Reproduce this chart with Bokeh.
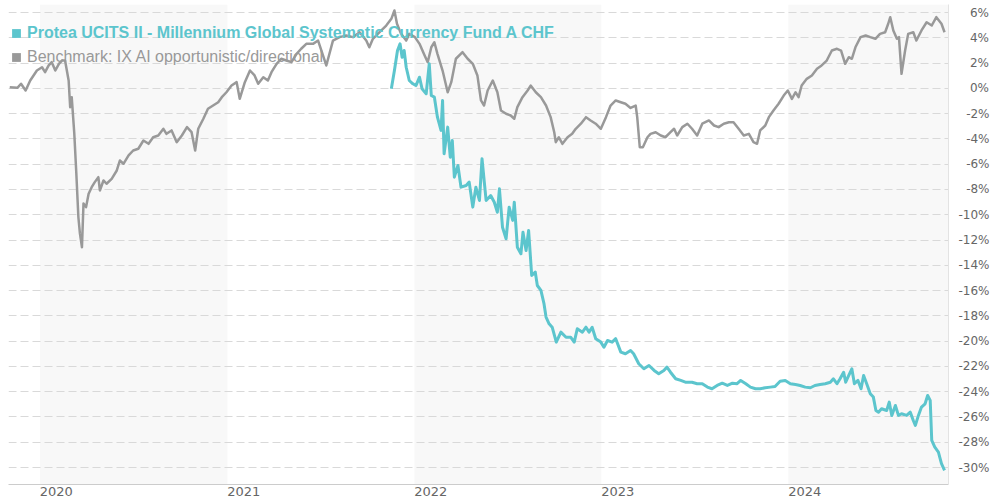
import pandas as pd
from bokeh.plotting import figure
from bokeh.models import (ColumnDataSource, Range1d, FixedTicker, Legend,
                          LegendItem, BoxAnnotation, CustomJSTickFormatter)
from bokeh.embed import file_html
from bokeh.resources import INLINE

# ---------------- data ----------------
bench_dates = [
    "2019-11-03", "2019-11-18", "2019-11-25", "2019-12-04", "2019-12-13", "2019-12-26",
    "2020-01-05", "2020-01-11", "2020-01-18", "2020-01-24", "2020-01-31", "2020-02-07", "2020-02-13", "2020-02-19", "2020-02-26", "2020-02-29",
    "2020-03-03", "2020-03-08", "2020-03-12", "2020-03-16", "2020-03-19", "2020-03-23", "2020-03-26", "2020-03-31", "2020-04-05", "2020-04-11", "2020-04-17", "2020-04-24", "2020-04-27",
    "2020-05-04", "2020-05-10", "2020-05-20", "2020-05-30", "2020-06-05", "2020-06-12", "2020-06-22", "2020-07-01", "2020-07-11", "2020-07-21",
    "2020-07-31", "2020-08-09", "2020-08-19", "2020-08-29", "2020-09-04", "2020-09-14", "2020-09-24", "2020-10-04", "2020-10-14", "2020-10-23",
    "2020-10-30", "2020-11-05", "2020-11-15", "2020-11-24", "2020-12-04", "2020-12-14", "2020-12-21", "2020-12-30",
    "2021-01-09", "2021-01-19", "2021-01-25", "2021-02-04", "2021-02-14", "2021-02-23", "2021-03-02", "2021-03-12", "2021-03-21", "2021-03-28",
    "2021-04-07", "2021-04-16", "2021-04-26", "2021-05-06", "2021-05-16", "2021-05-25", "2021-06-04", "2021-06-17", "2021-06-27", "2021-07-13",
    "2021-07-26", "2021-08-08", "2021-08-21", "2021-09-03", "2021-09-16", "2021-09-29", "2021-10-05", "2021-10-12", "2021-10-25", "2021-11-07",
    "2021-11-17", "2021-11-23", "2021-11-28", "2021-12-06", "2021-12-16", "2021-12-22",
    "2022-01-02", "2022-01-11", "2022-01-21", "2022-01-27", "2022-02-03", "2022-02-09", "2022-02-15", "2022-02-25", "2022-03-07", "2022-03-14",
    "2022-03-23", "2022-04-05", "2022-04-15", "2022-04-25", "2022-05-04", "2022-05-11", "2022-05-17", "2022-05-24", "2022-06-03", "2022-06-12",
    "2022-06-19", "2022-06-29", "2022-07-08", "2022-07-15", "2022-07-21", "2022-07-31", "2022-08-10", "2022-08-16", "2022-08-26", "2022-09-05",
    "2022-09-15", "2022-09-24", "2022-10-01", "2022-10-04", "2022-10-10", "2022-10-17", "2022-10-27", "2022-11-05", "2022-11-12", "2022-11-22",
    "2022-12-02", "2022-12-11", "2022-12-21", "2022-12-31",
    "2023-01-10", "2023-01-19", "2023-01-29", "2023-02-08", "2023-02-17", "2023-02-27", "2023-03-09", "2023-03-12", "2023-03-17", "2023-03-23",
    "2023-04-01", "2023-04-07", "2023-04-17", "2023-04-27", "2023-05-06", "2023-05-16", "2023-05-23", "2023-05-29", "2023-06-08", "2023-06-18",
    "2023-06-27", "2023-07-07", "2023-07-17", "2023-07-30", "2023-08-09", "2023-08-18", "2023-08-28", "2023-09-07", "2023-09-16", "2023-09-26",
    "2023-10-06", "2023-10-16", "2023-10-25", "2023-11-01", "2023-11-07", "2023-11-17", "2023-11-24", "2023-12-03", "2023-12-13", "2023-12-23",
    "2023-12-31",
    "2024-01-08", "2024-01-15", "2024-01-21", "2024-01-27", "2024-02-06", "2024-02-16", "2024-02-26", "2024-03-06", "2024-03-16", "2024-03-26",
    "2024-04-05", "2024-04-13", "2024-04-21", "2024-04-28", "2024-05-04", "2024-05-11", "2024-05-21", "2024-05-31", "2024-06-09", "2024-06-19",
    "2024-06-28", "2024-07-08", "2024-07-14", "2024-07-18", "2024-07-24", "2024-07-31", "2024-08-04", "2024-08-09", "2024-08-16", "2024-08-22",
    "2024-09-01", "2024-09-07", "2024-09-17", "2024-09-27", "2024-10-07", "2024-10-16", "2024-10-26", "2024-11-01",
]
bench_values = [
    0.09, 0.04, 0.36, -0.17, 0.62, 1.41,
    1.67, 1.28, 1.81, 2.07, 1.41, 1.94, 2.20, 2.20, 0.62, -1.49,
    -0.70, -3.57, -6.74, -10.19, -11.48, -12.57, -9.11, -9.40, -8.34, -7.82, -7.42, -7.03, -8.08,
    -7.29, -7.55, -7.16, -6.50, -5.71, -5.97, -5.31, -4.92, -4.78, -4.13,
    -4.39, -3.87, -3.73, -3.20, -3.60, -3.33, -4.26, -3.73, -3.07, -3.47,
    -4.92, -3.20, -2.41, -1.62, -1.36, -1.10, -0.70, -0.31,
    0.22, 0.49, -0.83, 0.49, 1.41, 1.02, 0.36, 0.88, 0.62, 1.28,
    1.94, 2.34, 2.20, 2.07, 2.73, 3.13, 3.52, 3.52, 3.78, 1.81,
    3.78, 4.05, 4.18, 4.05, 4.44, 3.78, 3.25, 3.92, 4.44, 4.97,
    5.50, 6.16, 5.11, 4.31, 3.78, 4.31,
    4.05, 3.52, 2.60, 2.07, 3.25, 3.65, 2.73, 1.41, -0.31, 0.49,
    2.34, 2.86, 2.34, 1.94, 1.02, -0.96, -1.36, -0.17, 0.62, -0.31,
    -1.75, -2.01, -2.15, -2.41, -1.49, -0.70, -0.17, 0.22, -0.31, -0.70,
    -1.36, -2.28, -3.47, -4.26, -3.87, -4.39, -3.87, -3.60, -3.20, -2.80,
    -2.28, -2.54, -2.80, -3.20,
    -2.28, -1.36, -0.96, -1.10, -1.22, -1.55, -1.36, -2.28, -4.66, -4.66,
    -3.87, -3.60, -3.47, -3.73, -3.87, -3.47, -3.20, -3.73, -3.07, -2.80,
    -3.20, -3.73, -2.80, -2.54, -2.94, -3.07, -2.80, -2.68, -2.68, -3.20,
    -3.73, -3.60, -4.26, -4.39, -3.33, -2.94, -2.28, -1.75, -1.22, -0.57,
    -0.17,
    -0.83, -0.31, -0.70, 0.22, 0.75, 1.02, 1.55, 1.81, 2.20, 2.99,
    3.13, 2.99, 1.94, 2.46, 2.34, 3.25, 4.05, 4.18, 4.05, 3.92,
    4.31, 4.44, 5.11, 5.63, 4.58, 3.92, 4.05, 1.15, 2.99, 4.31,
    4.44, 3.78, 4.58, 5.23, 4.97, 5.63, 5.11, 4.44,
]

fund_dates = [
    "2021-11-17", "2021-11-23", "2021-11-29", "2021-12-04", "2021-12-08", "2021-12-12", "2021-12-16", "2021-12-22", "2021-12-29",
    "2022-01-04", "2022-01-11", "2022-01-16", "2022-01-24", "2022-01-30", "2022-02-03", "2022-02-09", "2022-02-15", "2022-02-22", "2022-02-25",
    "2022-02-28", "2022-03-07", "2022-03-12", "2022-03-16", "2022-03-20", "2022-03-27", "2022-04-02", "2022-04-12", "2022-04-18", "2022-04-25",
    "2022-05-01", "2022-05-08", "2022-05-13", "2022-05-21", "2022-05-30", "2022-06-06", "2022-06-12", "2022-06-16", "2022-06-22", "2022-06-29",
    "2022-07-05", "2022-07-12", "2022-07-15", "2022-07-21", "2022-07-28", "2022-08-01", "2022-08-07", "2022-08-12", "2022-08-18", "2022-08-25",
    "2022-08-29", "2022-09-05", "2022-09-11", "2022-09-15", "2022-09-21", "2022-09-27", "2022-10-05", "2022-10-14", "2022-10-24", "2022-11-02",
    "2022-11-09", "2022-11-15", "2022-11-25", "2022-12-02", "2022-12-08", "2022-12-14", "2022-12-21", "2022-12-31",
    "2023-01-06", "2023-01-13", "2023-01-22", "2023-01-29", "2023-02-08", "2023-02-17", "2023-02-27", "2023-03-05", "2023-03-15", "2023-03-25",
    "2023-04-04", "2023-04-14", "2023-04-23", "2023-05-03", "2023-05-09", "2023-05-16", "2023-05-26", "2023-06-05", "2023-06-14", "2023-06-27",
    "2023-07-07", "2023-07-17", "2023-07-27", "2023-08-05", "2023-08-15", "2023-08-25", "2023-09-04", "2023-09-14", "2023-09-23", "2023-09-30",
    "2023-10-10", "2023-10-19", "2023-10-29", "2023-11-07", "2023-11-17", "2023-11-27", "2023-12-06", "2023-12-16", "2023-12-26",
    "2024-01-05", "2024-01-15", "2024-01-24", "2024-02-03", "2024-02-13", "2024-02-22", "2024-03-03", "2024-03-13", "2024-03-23", "2024-03-29",
    "2024-04-05", "2024-04-11", "2024-04-18", "2024-04-22", "2024-04-28", "2024-05-04", "2024-05-09", "2024-05-16", "2024-05-22", "2024-05-27",
    "2024-06-02", "2024-06-09", "2024-06-15", "2024-06-20", "2024-06-25", "2024-07-01", "2024-07-11", "2024-07-16", "2024-07-21", "2024-07-28",
    "2024-08-03", "2024-08-09", "2024-08-19", "2024-08-26", "2024-09-01", "2024-09-05", "2024-09-11", "2024-09-17", "2024-09-24", "2024-09-29",
    "2024-10-04", "2024-10-07", "2024-10-13", "2024-10-20", "2024-10-26", "2024-11-01",
]
fund_values = [
    -0.04, 1.41, 2.99, 3.52, 2.46, 2.99, 1.67, 0.62, 0.36,
    0.22, 0.88, -0.04, -0.43, 1.94, -0.57, -0.70, -2.28, -3.33, -0.96,
    -5.18, -3.07, -5.45, -4.13, -7.03, -6.10, -7.82, -7.69, -7.42, -9.40,
    -7.82, -8.87, -5.57, -8.87, -8.48, -9.01, -9.80, -7.95, -10.99, -11.90,
    -9.40, -10.45, -9.01, -12.57, -13.09, -11.38, -12.83, -11.25, -14.81, -14.54,
    -15.60, -15.99, -17.04, -18.10, -18.63, -18.90, -20.08, -19.29, -19.69, -19.69,
    -20.08, -19.02, -19.29, -18.90, -19.29, -18.90, -19.81, -20.08,
    -20.48, -19.95, -20.08, -19.81, -20.87, -21.00, -20.74, -21.00, -21.79, -22.19,
    -21.93, -22.32, -22.58, -22.32, -22.06, -22.46, -22.98, -23.11, -23.25, -23.25,
    -23.37, -23.37, -23.64, -23.77, -23.51, -23.33, -23.51, -23.33, -23.37, -23.11,
    -23.37, -23.64, -23.77, -23.77, -23.69, -23.64, -23.59, -23.17, -23.11,
    -23.37, -23.43, -23.51, -23.64, -23.69, -23.51, -23.43, -23.37, -23.25, -22.98,
    -23.37, -22.98, -22.46, -23.25, -22.72, -22.19, -23.37, -23.11, -23.77, -22.72,
    -23.37, -24.16, -24.43, -25.49, -25.62, -25.35, -25.49, -24.83, -25.88, -25.09,
    -25.88, -25.75, -25.88, -25.62, -26.28, -26.67, -25.88, -25.22, -24.96, -24.30,
    -24.69, -27.86, -28.39, -28.78, -29.70, -30.23,
]

band_starts = ["2020-01-01", "2022-01-01", "2024-01-01"]
band_ends = ["2021-01-01", "2023-01-01", "2025-01-01"]

year_starts = ["2020-01-01", "2021-01-01", "2022-01-01", "2023-01-01", "2024-01-01"]
year_tick_labels = ["2020", "2021", "2022", "2023", "2024"]

y_ticks = [6, 4, 2, 0, -2, -4, -6, -8, -10, -12, -14, -16, -18, -20, -22, -24, -26, -28, -30]

fund_name = "Protea UCITS II - Millennium Global Systematic Currency Fund A CHF"
bench_name = "Benchmark: IX AI opportunistic/directional"

FUND_COLOR = "#5cc5cd"
BENCH_COLOR = "#999999"
TICK_COLOR = "#666666"

# ---------------- figure ----------------
p = figure(width=992, height=503, x_axis_type="datetime", y_axis_location="right",
           output_backend="svg", toolbar_location=None,
           x_range=Range1d(pd.Timestamp("2019-10-31 14:00"), pd.Timestamp("2024-11-08 17:00")),
           y_range=Range1d(-31.345, 6.633),
           min_border_left=8, min_border_top=4, min_border_right=42, min_border_bottom=19)
p.outline_line_color = None
p.background_fill_color = "white"
p.border_fill_color = "white"

for s, e in zip(band_starts, band_ends):
    p.add_layout(BoxAnnotation(left=pd.Timestamp(s), right=pd.Timestamp(e),
                               fill_color="#f8f8f8", fill_alpha=1.0, line_color=None,
                               level="image"))

p.xgrid.visible = False
p.ygrid.ticker = FixedTicker(ticks=y_ticks)
p.ygrid.grid_line_color = "#d9d9d9"
p.ygrid.grid_line_dash = "8 4"
p.ygrid.grid_line_width = 1

# right axis: labels right-aligned by padding with figure / punctuation spaces
p.yaxis.ticker = FixedTicker(ticks=y_ticks)
p.yaxis.formatter = CustomJSTickFormatter(code="""
    const t = Math.round(tick);
    const s = t.toString() + "%";
    let pad = "";
    const nd = Math.abs(t).toString().length;
    for (let i = nd; i < 2; i++) pad += "\\u2007";
    if (t >= 0) pad += "\\u2008";
    return pad + s;
""")
p.yaxis.major_tick_line_color = None
p.yaxis.minor_tick_line_color = None
p.yaxis.major_tick_out = 0
p.yaxis.axis_line_color = "#e3e3e3"
p.yaxis.major_label_standoff = 10
p.yaxis.major_label_text_font = "DejaVu Sans"
p.yaxis.major_label_text_font_size = "12px"
p.yaxis.major_label_text_color = TICK_COLOR

# bottom axis: year labels starting at each year's start
tick_shift = pd.Timedelta(days=32)  # half a label width, so the label begins at Jan 1
x_ticks = [(pd.Timestamp(d) + tick_shift).value / 1e6 for d in year_starts]
p.xaxis.ticker = FixedTicker(ticks=x_ticks)
p.xaxis.major_label_overrides = {t: lab for t, lab in zip(x_ticks, year_tick_labels)}
p.xaxis.major_tick_line_color = None
p.xaxis.minor_tick_line_color = None
p.xaxis.major_tick_out = 0
p.xaxis.axis_line_color = "#cccccc"
p.xaxis.major_label_standoff = 2
p.xaxis.major_label_text_font = "DejaVu Sans"
p.xaxis.major_label_text_font_size = "13px"
p.xaxis.major_label_text_color = TICK_COLOR

bench_src = ColumnDataSource(data=dict(x=pd.to_datetime(bench_dates), y=bench_values))
fund_src = ColumnDataSource(data=dict(x=pd.to_datetime(fund_dates), y=fund_values))

p.line("x", "y", source=bench_src, line_color=BENCH_COLOR, line_width=2.5, line_join="round")
p.line("x", "y", source=fund_src, line_color=FUND_COLOR, line_width=3, line_join="round")

# square legend symbols (size-0 markers on the series, only visible in the legend)
rf = p.scatter("x", "y", source=fund_src, marker="square", size=0, fill_color=FUND_COLOR, line_color=None)
rb = p.scatter("x", "y", source=bench_src, marker="square", size=0, fill_color=BENCH_COLOR, line_color=None)

leg_f = Legend(items=[LegendItem(label=fund_name, renderers=[rf], index=0)], location=(-3, 439.5))
leg_b = Legend(items=[LegendItem(label=bench_name, renderers=[rb], index=0)], location=(-3, 415.3))
for lg, col, st in ((leg_f, FUND_COLOR, "bold"), (leg_b, BENCH_COLOR, "normal")):
    lg.padding = 0
    lg.margin = 0
    lg.spacing = 0
    lg.glyph_width = 22
    lg.glyph_height = 24
    lg.label_height = 24
    lg.label_standoff = 0
    lg.border_line_color = None
    lg.background_fill_alpha = 0
    lg.label_text_font = "Liberation Sans"
    lg.label_text_font_size = "16px"
    lg.label_text_font_style = st
    lg.label_text_color = col
    p.add_layout(lg)

open("out.html", "w").write(file_html(p, INLINE))
